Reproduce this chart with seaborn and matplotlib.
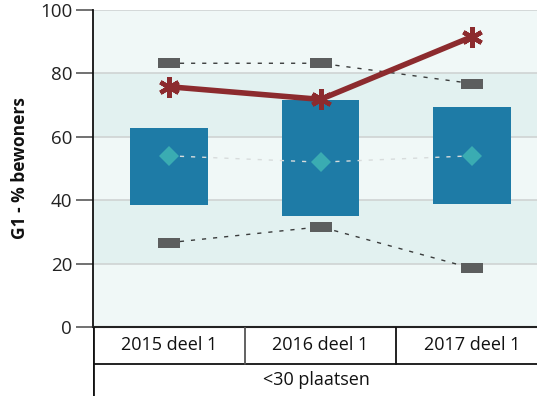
import matplotlib
matplotlib.use("Agg")
import matplotlib.pyplot as plt
import numpy as np
import pandas as pd
import seaborn as sns
from matplotlib.lines import Line2D

# Data
categories = ["2015 deel 1", "2016 deel 1", "2017 deel 1"]
group_label = "<30 plaatsen"
box_low = [38.6, 35.1, 38.9]
box_high = [62.8, 71.6, 69.4]
median = [54.0, 52.0, 54.0]
upper = [83.2, 83.2, 76.8]
lower = [26.6, 31.6, 18.5]
score = [75.8, 71.8, 91.6]
y_ticks = [0, 20, 40, 60, 80, 100]

sns.set_theme(style="white")
plt.rcParams["font.family"] = ["Open Sans", "DejaVu Sans"]

W, H = 537, 396
fig = plt.figure(figsize=(W / 100, H / 100), dpi=100)

left_px, right_px = 93, 548
top_px, zero_px = 10, 327
ax = fig.add_axes([left_px / W, (H - zero_px) / H, (right_px - left_px) / W, (zero_px - top_px) / H])

# Background bands
light, dark = "#f0f8f7", "#e2f1f0"
ax.set_facecolor(light)
for lo, hi, c in [(0, 20, light), (20, 40, dark), (40, 60, light), (60, 80, dark), (80, 100, light)]:
    ax.axhspan(lo, hi, color=c, zorder=0, lw=0)
for yv in [20, 40, 60, 80, 100]:
    ax.axhline(yv, color="#cfd3d3", lw=1.2, zorder=0.5)

df = pd.DataFrame({
    "cat": categories,
    "low": box_low,
    "span": np.array(box_high) - np.array(box_low),
    "median": median,
    "upper": upper,
    "lower": lower,
    "score": score,
})
df["pos"] = np.arange(len(categories))

# Floating boxes from low to high
sns.barplot(data=df, x="cat", y="span", bottom=df["low"], color="#1e7ba6",
            saturation=1, width=0.51, ax=ax, zorder=2, linewidth=0)

# Range markers (upper / lower) with dotted connectors
rect = [(-1, -0.48), (1, -0.48), (1, 0.48), (-1, 0.48), (-1, -0.48)]
for col in ["upper", "lower"]:
    sns.lineplot(data=df, x="pos", y=col, ax=ax, color="#3a3c3c", lw=1.0,
                 linestyle=(0, (3, 5)), zorder=3, legend=False)
    ax.plot(df["pos"], df[col], ls="none", marker=rect, markersize=15.5,
            color="#5c5e5e", markeredgewidth=0, zorder=4)

# Median diamonds
sns.lineplot(data=df, x="pos", y="median", ax=ax, color="#d8dcdc", lw=1.0,
             linestyle=(0, (3, 5)), zorder=3, legend=False)
ax.plot(df["pos"], df["median"], ls="none", marker="D", markersize=10,
        color="#3aacb2", markeredgewidth=0, zorder=4)

# Score line
sns.lineplot(data=df, x="pos", y="score", ax=ax, color="#8c2b2e", lw=4,
             zorder=5, legend=False)
ax.plot(df["pos"], df["score"], ls="none", marker=(6, 2, 0), markersize=15,
        color="#8c2b2e", markeredgewidth=3.2, zorder=6)

ax.set_xlim(-0.5, 2.5)
ax.set_ylim(0, 100)
ax.set_yticks(y_ticks)
ax.set_yticklabels([str(t) for t in y_ticks], fontsize=13.5, color="#222222")
ax.set_xticks([])
ax.set_xlabel("")
ax.set_ylabel("G1 - % bewoners", fontsize=12.5, fontweight="bold", color="#111111", labelpad=8)
ax.tick_params(axis="y", direction="out", length=12, width=1.3, color="#666666", pad=3, left=True)
for s in ["top", "right"]:
    ax.spines[s].set_visible(False)
ax.spines["left"].set_color("#111111")
ax.spines["left"].set_linewidth(1.3)
ax.spines["bottom"].set_color("#222222")
ax.spines["bottom"].set_linewidth(1.5)

# Category table beneath the axis
tab = fig.add_axes([left_px / W, 0, (right_px - left_px) / W, (H - zero_px) / H])
tab.set_xlim(-0.5, 2.5)
tab.set_ylim(0, H - zero_px)
tab.axis("off")
row_y = H - 364
tab.add_line(Line2D([-0.5, 2.5], [row_y, row_y], color="#111111", lw=1.3))
tab.add_line(Line2D([-0.5, -0.5], [0, H - zero_px], color="#111111", lw=2.0))
for b in [0.5, 1.5]:
    tab.add_line(Line2D([b, b], [row_y, H - zero_px], color="#555555" if b == 0.5 else "#111111", lw=1.3))
for i, c in enumerate(categories):
    tab.text(i, (row_y + H - zero_px) / 2, c, ha="center", va="center", fontsize=13, color="#111111")
tab.text(1.0 - 0.03, row_y / 2, group_label, ha="center", va="center", fontsize=13, color="#111111")

fig.savefig("out.png", dpi=100)
